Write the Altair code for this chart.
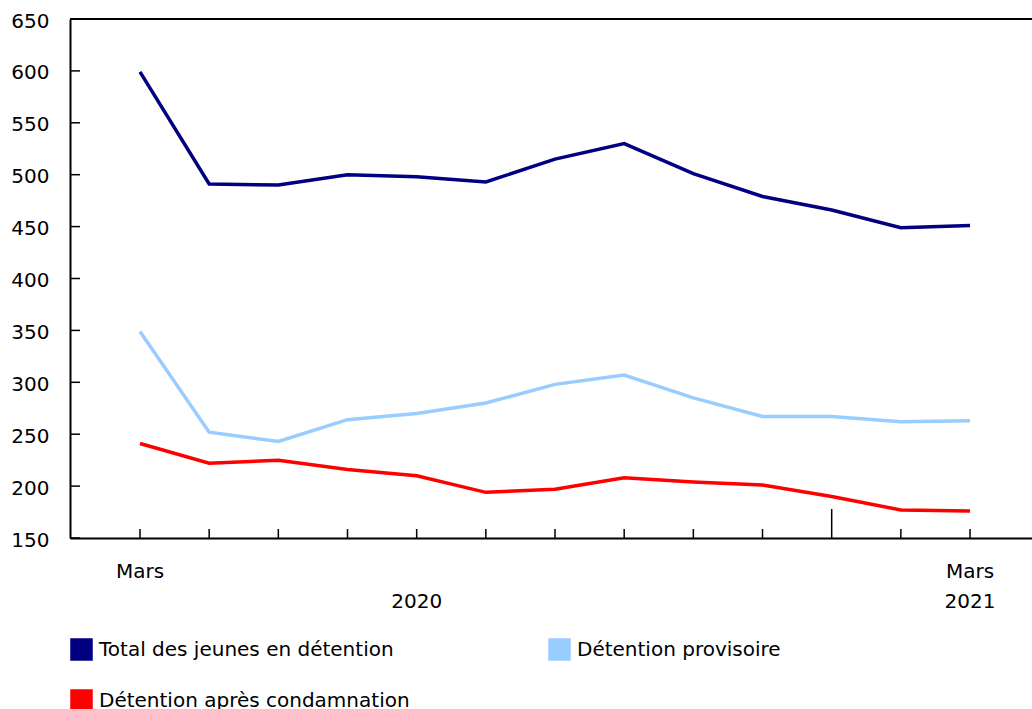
import altair as alt
import pandas as pd

# Monthly counts, March 2020 to March 2021
month_idx = list(range(13))
series = [
    "Total des jeunes en détention",
    "Détention provisoire",
    "Détention après condamnation",
]
total = [599, 491, 490, 500, 498, 493, 515, 530, 501, 479, 466, 449, 451]
provisoire = [349, 252, 243, 264, 270, 280, 298, 307, 285, 267, 267, 262, 263]
condamnation = [241, 222, 225, 216, 210, 194, 197, 208, 204, 201, 190, 177, 176]
colors = ["#000080", "#99ccff", "#ff0000"]

y_ticks = [150, 200, 250, 300, 350, 400, 450, 500, 550, 600, 650]
label_idx = [0, 4, 12]
label_line1 = ["Mars", "", "Mars"]
label_line2 = ["", "2020", "2021"]
year_break_idx = [10]

FONT = "DejaVu Sans"
FS = 20
W, H = 962, 519

rows = []
for name, vals in zip(series, [total, provisoire, condamnation]):
    for i, v in zip(month_idx, vals):
        rows.append({"idx": i, "serie": name, "value": v})
df = pd.DataFrame(rows)

xscale = alt.Scale(domain=[-1.012, 12.896], nice=False, zero=False)
yscale = alt.Scale(domain=[150, 650], nice=False, zero=False)

x_axis = alt.Axis(labels=False, ticks=False, grid=False, title=None,
                  domainColor="black", domainWidth=2)
y_axis = alt.Axis(values=y_ticks, tickSize=0, labelPadding=21,
                  labelFont=FONT, labelFontSize=FS, labelColor="black",
                  labelOffset=2, grid=False, title=None,
                  domainColor="black", domainWidth=2)

lines = alt.Chart(df).mark_line(strokeWidth=3.5).encode(
    x=alt.X("idx:Q", scale=xscale, axis=x_axis),
    y=alt.Y("value:Q", scale=yscale, axis=y_axis),
    color=alt.Color("serie:N", scale=alt.Scale(domain=series, range=colors),
                    legend=None),
    order=alt.Order("idx:Q"),
)

# invisible squares that carry the filled-square legend
legend_layer = alt.Chart(df).mark_square(opacity=0, filled=True, stroke="black").encode(
    x=alt.X("idx:Q", scale=xscale, axis=x_axis),
    y=alt.Y("value:Q", scale=yscale, axis=y_axis),
    color=alt.Color(
        "serie:N",
        scale=alt.Scale(domain=series, range=colors),
        sort=series,
        legend=alt.Legend(
            title=None, orient="none", legendX=0, legendY=619, columns=2,
            direction="horizontal",
            symbolType="square", symbolSize=441, symbolOpacity=1,
            symbolStrokeColor="black", symbolStrokeWidth=1.5,
            labelFont=FONT, labelFontSize=FS, labelColor="black",
            labelOffset=6, labelLimit=400, columnPadding=136, rowPadding=24,
            padding=0,
        ),
    ),
)

# inward ticks on the y axis
ytick_df = pd.DataFrame({"value": y_ticks})
ytick_layer = alt.Chart(ytick_df).mark_rule(color="black", strokeWidth=1.5).encode(
    y=alt.Y("value:Q", scale=yscale, axis=y_axis),
    x=alt.value(0),
    x2=alt.value(10),
)

# inward ticks on the x axis, with a taller one at the year change
xtick_df = pd.DataFrame({"idx": [i for i in month_idx if i not in year_break_idx]})
xtick_layer = alt.Chart(xtick_df).mark_rule(color="black", strokeWidth=1.5).encode(
    x=alt.X("idx:Q", scale=xscale, axis=x_axis),
    y=alt.value(H),
    y2=alt.value(H - 9),
)
break_df = pd.DataFrame({"idx": year_break_idx})
break_layer = alt.Chart(break_df).mark_rule(color="black", strokeWidth=1.5).encode(
    x=alt.X("idx:Q", scale=xscale, axis=x_axis),
    y=alt.value(H),
    y2=alt.value(H - 29),
)

# top frame line
top_layer = alt.Chart(pd.DataFrame({"k": [0]})).mark_rule(color="black", strokeWidth=2).encode(
    x=alt.value(0), x2=alt.value(W), y=alt.value(0),
)

lab_df = pd.DataFrame({"idx": label_idx, "l1": label_line1, "l2": label_line2})
lab1 = alt.Chart(lab_df).mark_text(font=FONT, fontSize=FS, color="black",
                                   baseline="middle", align="center").encode(
    x=alt.X("idx:Q", scale=xscale, axis=x_axis),
    y=alt.value(553),
    text="l1:N",
)
lab2 = alt.Chart(lab_df).mark_text(font=FONT, fontSize=FS, color="black",
                                   baseline="middle", align="center").encode(
    x=alt.X("idx:Q", scale=xscale, axis=x_axis),
    y=alt.value(583),
    text="l2:N",
)

chart = alt.layer(
    legend_layer, lines, ytick_layer, xtick_layer, break_layer, top_layer, lab1, lab2
).properties(
    width=W, height=H,
    padding={"left": 70, "top": 19, "right": 0, "bottom": 190},
    autosize=alt.AutoSizeParams(type="none"),
).configure_view(stroke=None).configure(background="white")

chart.save("out.html", embed_options={"renderer": "svg", "actions": False})
